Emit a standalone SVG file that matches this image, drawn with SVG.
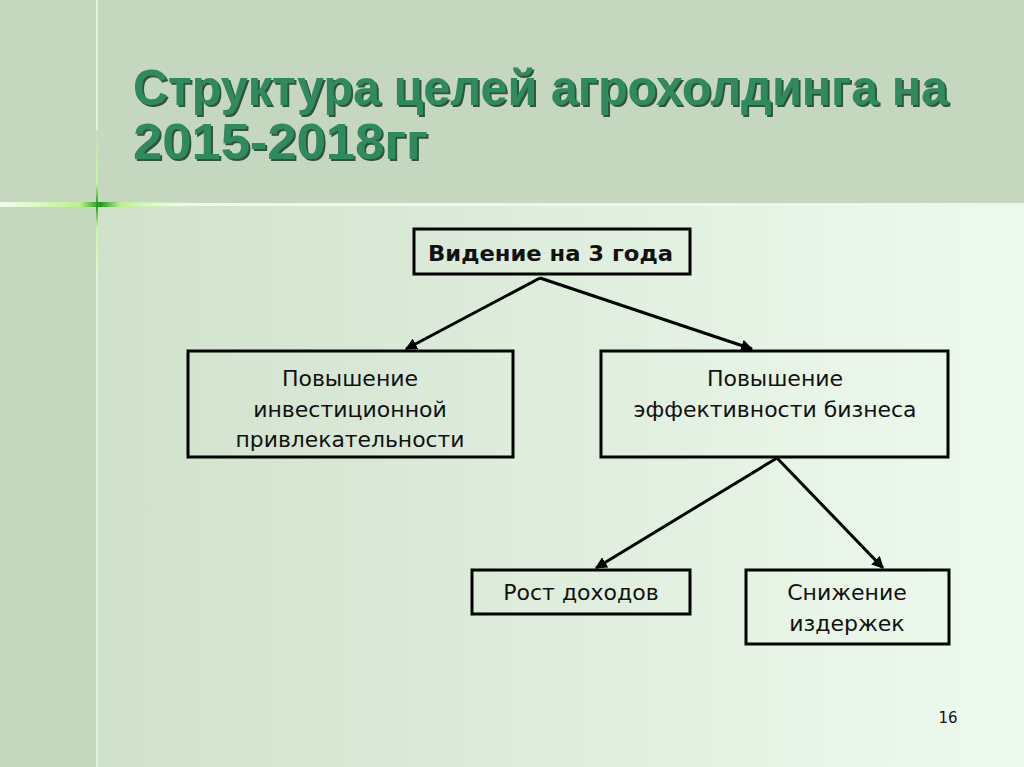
<svg xmlns="http://www.w3.org/2000/svg" width="1024" height="767" viewBox="0 0 1024 767">
<defs>
<linearGradient id="bg" x1="0" y1="0" x2="1" y2="0">
<stop offset="0" stop-color="#d0e1cb"/>
<stop offset="1" stop-color="#eefaef"/>
</linearGradient>
<linearGradient id="hl" x1="0" y1="0" x2="1" y2="0">
<stop offset="0" stop-color="#f4fff0" stop-opacity="0.9"/>
<stop offset="0.4" stop-color="#bdf08a"/>
<stop offset="0.5" stop-color="#1a9a1a"/>
<stop offset="0.6" stop-color="#bdf08a"/>
<stop offset="1" stop-color="#f4fff0" stop-opacity="0"/>
</linearGradient>
<linearGradient id="vl" x1="0" y1="0" x2="0" y2="1">
<stop offset="0" stop-color="#c8dcbf"/>
<stop offset="0.35" stop-color="#c9f7a0"/>
<stop offset="0.5" stop-color="#1a9a1a"/>
<stop offset="0.65" stop-color="#c9f7a0"/>
<stop offset="1" stop-color="#e4f6d8"/>
</linearGradient>
<marker id="ah" viewBox="0 0 10 10" refX="9" refY="5" markerWidth="4" markerHeight="4" orient="auto" markerUnits="strokeWidth">
<path d="M0,0 L10,5 L0,10 z" fill="#000"/>
</marker>
<filter id="sh" x="-5%" y="-5%" width="110%" height="120%">
<feDropShadow dx="2" dy="2" stdDeviation="0.6" flood-color="#1c3a28" flood-opacity="0.85"/>
</filter>
</defs>
<style>
.box{fill:none;stroke:#000;stroke-width:3}
.t{font-family:"DejaVu Sans",Tahoma,sans-serif;font-size:22px;fill:#111;text-anchor:middle}
.tb{font-family:"DejaVu Sans",Tahoma,sans-serif;font-size:21px;font-weight:bold;fill:#111}
.conn{stroke:#000;stroke-width:3;fill:none;marker-end:url(#ah)}
.title{font-family:"Liberation Sans",Arial,sans-serif;font-weight:bold;font-size:50px;fill:#2e8a5e}
</style>
<rect x="0" y="0" width="1024" height="767" fill="#c6d7bf"/>
<rect x="97" y="206" width="927" height="561" fill="url(#bg)"/>
<rect x="0" y="203" width="1024" height="3" fill="#eef8ea"/>
<rect x="0" y="202" width="200" height="5" fill="url(#hl)"/>
<rect x="96" y="0" width="2" height="767" fill="#e2f4d6"/>
<rect x="96" y="130" width="2" height="150" fill="url(#vl)"/>
<g id="title" filter="url(#sh)">
<text class="title" x="133" y="105" textLength="815" lengthAdjust="spacingAndGlyphs">Структура целей агрохолдинга на</text>
<text class="title" x="133" y="159" textLength="295" lengthAdjust="spacingAndGlyphs">2015-2018гг</text>
</g>
<g id="connectors">
<line class="conn" x1="540" y1="278" x2="406" y2="349"/>
<line class="conn" x1="540" y1="278" x2="752" y2="349"/>
<line class="conn" x1="777" y1="458" x2="596" y2="568"/>
<line class="conn" x1="777" y1="458" x2="883" y2="568"/>
</g>
<g id="n1">
<rect class="box" x="414" y="229" width="276" height="45"/>
<text class="tb" x="428" y="261" textLength="245" lengthAdjust="spacingAndGlyphs">Видение на 3 года</text>
</g>
<g id="n2">
<rect class="box" x="188" y="351" width="325" height="106"/>
<text class="t" x="350" y="386">Повышение</text>
<text class="t" x="350" y="417">инвестиционной</text>
<text class="t" x="350" y="447" textLength="229" lengthAdjust="spacingAndGlyphs">привлекательности</text>
</g>
<g id="n3">
<rect class="box" x="601" y="351" width="347" height="106"/>
<text class="t" x="775" y="386">Повышение</text>
<text class="t" x="775" y="417" textLength="283" lengthAdjust="spacingAndGlyphs">эффективности бизнеса</text>
</g>
<g id="n4">
<rect class="box" x="472" y="570" width="218" height="44"/>
<text class="t" x="581" y="600">Рост доходов</text>
</g>
<g id="n5">
<rect class="box" x="746" y="570" width="203" height="74"/>
<text class="t" x="847" y="600">Снижение</text>
<text class="t" x="847" y="631">издержек</text>
</g>
<text x="948" y="723" font-family="DejaVu Sans,Tahoma,sans-serif" font-size="15" fill="#111" text-anchor="middle">16</text>
</svg>
